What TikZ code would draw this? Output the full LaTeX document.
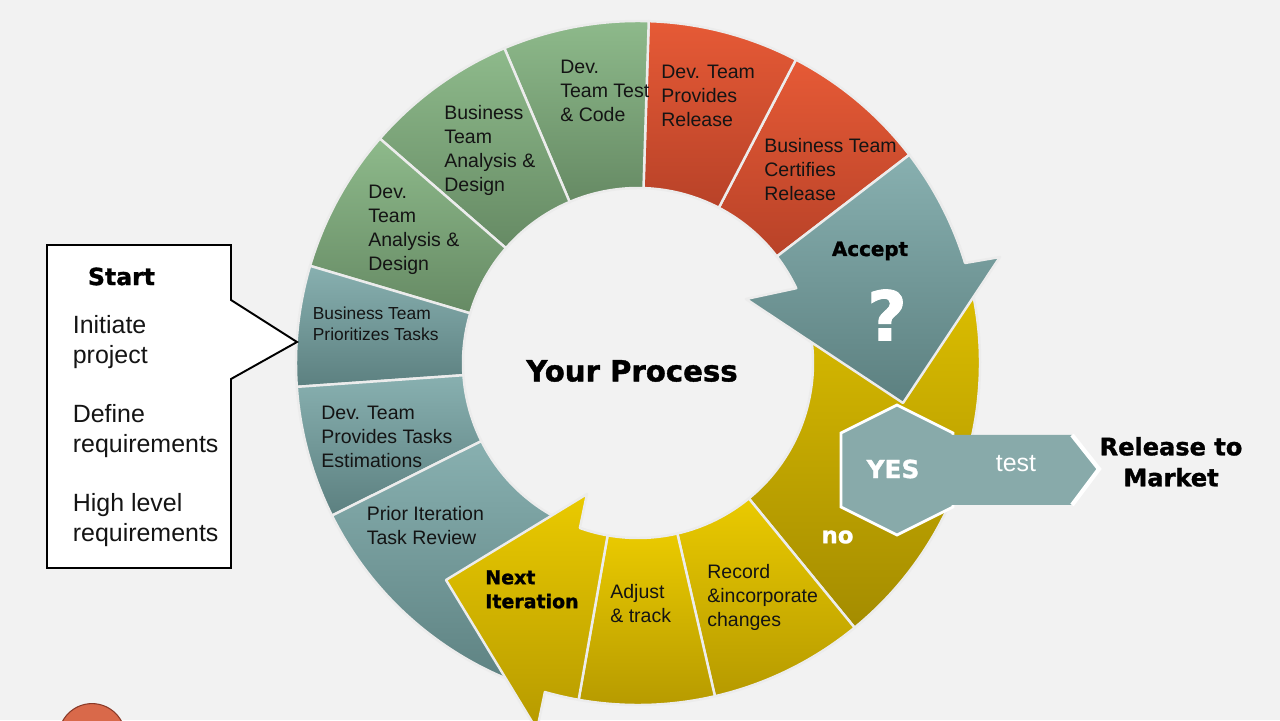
\documentclass[tikz,border=0pt]{standalone}
\usepackage{fontspec}
\setmainfont{Liberation Sans}
\newfontfamily\heavy{DejaVu Sans}[BoldFeatures={FakeBold=1.3}]
\usetikzlibrary{calc}
\definecolor{bg}{RGB}{242,242,242}
\definecolor{tealT}{RGB}{136,176,176}
\definecolor{tealB}{RGB}{92,128,128}
\definecolor{greenT}{RGB}{142,186,139}
\definecolor{greenB}{RGB}{102,138,100}
\definecolor{redT}{RGB}{230,90,54}
\definecolor{redB}{RGB}{184,66,40}
\definecolor{yelT}{RGB}{234,202,0}
\definecolor{yelB}{RGB}{182,154,0}
\definecolor{noB}{RGB}{164,140,0}
\definecolor{hexc}{RGB}{136,170,170}
\definecolor{sepc}{RGB}{236,236,236}
\definecolor{txt}{RGB}{20,20,20}
\definecolor{dotc}{RGB}{217,105,74}
\definecolor{dotb}{RGB}{138,58,40}
\newcommand\annseg[3]{\path[#1] ($(C)+(#2:175)$) arc[start angle=#2,end angle=#3,radius=175] -- ($(C)+(#3:342)$) arc[start angle=#3,end angle=#2,radius=342] -- cycle;}
\tikzset{
  sep/.style={draw=sepc, line width=1.4pt, line join=round},
  tealseg/.style={sep, top color=tealT, bottom color=tealB},
  greenseg/.style={sep, top color=greenT, bottom color=greenB},
  redseg/.style={sep, top color=redT, bottom color=redB},
  yelseg/.style={sep, top color=yelT, bottom color=yelB},
  segtxt/.style={anchor=north west, inner sep=0pt, align=left, text=txt, font=\fontsize{11.1}{13.66}\selectfont},
  calltxt/.style={anchor=north west, inner sep=0pt, align=left, text=txt, font=\fontsize{14.2}{17.07}\selectfont},
  heavytxt/.style={inner sep=0pt, text=black, font=\heavy\bfseries},
}
\begin{document}
\begin{tikzpicture}[x=0.02cm, y=0.02cm]
\useasboundingbox (0,0) rectangle (1280,720);
\clip (0,0) rectangle (1280,720);
\fill[bg] (0,0) rectangle (1280,720);
\coordinate (C) at (638,357);

% ring segments
\annseg{redseg}{37.5}{62.5}
\annseg{redseg}{62.5}{88.2}
\annseg{greenseg}{88.2}{113}
\annseg{greenseg}{113}{139}
\annseg{greenseg}{139}{163.5}
\annseg{tealseg}{163.5}{184}
\annseg{tealseg}{184}{206.5}
\annseg{tealseg}{206.5}{255}
\annseg{sep, top color=yelT, bottom color=noB}{309.3}{388}
\annseg{yelseg}{283}{309.3}
\annseg{yelseg}{260}{283}

% Next Iteration arrow
\path[yelseg] ($(C)+(260:175)$) -- ($(C)+(260:342)$) arc[start angle=260,end angle=254.2,radius=342]
  -- (537,-10) -- (446,140) -- (587,226) -- ($(C)+(250.6:175)$) arc[start angle=250.6,end angle=260,radius=175] -- cycle;

% Accept arrow
\path[tealseg] ($(C)+(37.5:175)$) -- ($(C)+(37.5:342)$) arc[start angle=37.5,end angle=17,radius=342]
  -- (1000,463) -- (903,317) -- (746,421) -- ($(C)+(25.3:175)$) arc[start angle=25.3,end angle=37.5,radius=175] -- cycle;

% YES hexagon and test arrow
\path[fill=hexc, draw=white, line width=1.6pt] (897,315) -- (953,287) -- (953,213) -- (897,185) -- (841,213) -- (841,287) -- cycle;
\fill[hexc] (897,285) -- (1072,285) -- (1100,251) -- (1072,215) -- (897,215) -- cycle;
\draw[white, line width=2.4pt, line join=miter] (1072,285) -- (1099,251) -- (1072,215);

% Start callout
\draw[black, line width=1.1pt, fill=white, line join=miter] (47,475) -- (231,475) -- (231,420) -- (297,378) -- (231,341) -- (231,152) -- (47,152) -- cycle;

% red dot
\path[fill=dotc, draw=dotb, line width=0.6pt] (92,-17) circle[radius=33.4];

% texts
\node[segtxt] (tDevTest) at (560,660) {Dev.\\Team Test\\\& Code};
\node[segtxt] (tDevRel) at (661,655) {Dev. Team\\Provides\\Release};
\node[segtxt] (tCert) at (764,582) {Business Team\\Certifies\\Release};
\node[segtxt] (tBusAn) at (444,615) {Business\\Team\\Analysis \&\\Design};
\node[segtxt] (tDevAn) at (368,535) {Dev.\\Team\\Analysis \&\\Design};
\node[segtxt, font=\fontsize{9.9}{11.95}\selectfont] (tPrio) at (312.5,413.5) {Business Team\\Prioritizes Tasks};
\node[segtxt] (tEst) at (321,314) {Dev. Team\\Provides Tasks\\Estimations};
\node[segtxt] (tPrior) at (366.5,214) {Prior Iteration\\Task Review};
\node[heavytxt, anchor=north west, align=left, font=\heavy\bfseries\fontsize{10.8}{13.66}\selectfont] (tNext) at (485,150) {Next\\Iteration};
\node[segtxt] (tAdj) at (610,136) {Adjust\\\& track};
\node[segtxt] (tRec) at (707,156) {Record\\\&incorporate\\changes};

\node[heavytxt, font=\heavy\bfseries\fontsize{16.6}{19}\selectfont] (tProc) at (632,349) {Your Process};
\node[heavytxt, anchor=base, font=\heavy\bfseries\fontsize{11.3}{13}\selectfont] (tAcc) at (870,464) {Accept};
\node[heavytxt, text=white, font=\heavy\bfseries\fontsize{39}{42}\selectfont] (tQ) at (887,405) {?};
\node[heavytxt, text=white, font=\heavy\bfseries\fontsize{14.1}{16}\selectfont] (tYes) at (893,251) {YES};
\node[heavytxt, text=white, font=\heavy\bfseries\fontsize{13}{15}\selectfont] (tNo) at (837.5,183) {no};
\node[inner sep=0pt, anchor=base, text=white, font=\fontsize{14.2}{16}\selectfont] (tTest) at (1016,248.5) {test};
\node[heavytxt, anchor=north, align=center, font=\heavy\bfseries\fontsize{13.7}{17.6}\selectfont] (tRel) at (1171,283.3) {Release to\\Market};

\node[heavytxt, font=\heavy\bfseries\fontsize{13.4}{15}\selectfont] (tStart) at (121.5,443.5) {Start};
\node[calltxt] (tInit) at (72.5,405) {Initiate\\project};
\node[calltxt] (tDef) at (72.5,316) {Define\\requirements};
\node[calltxt] (tHigh) at (72.5,227) {High level\\requirements};
\end{tikzpicture}
\end{document}
